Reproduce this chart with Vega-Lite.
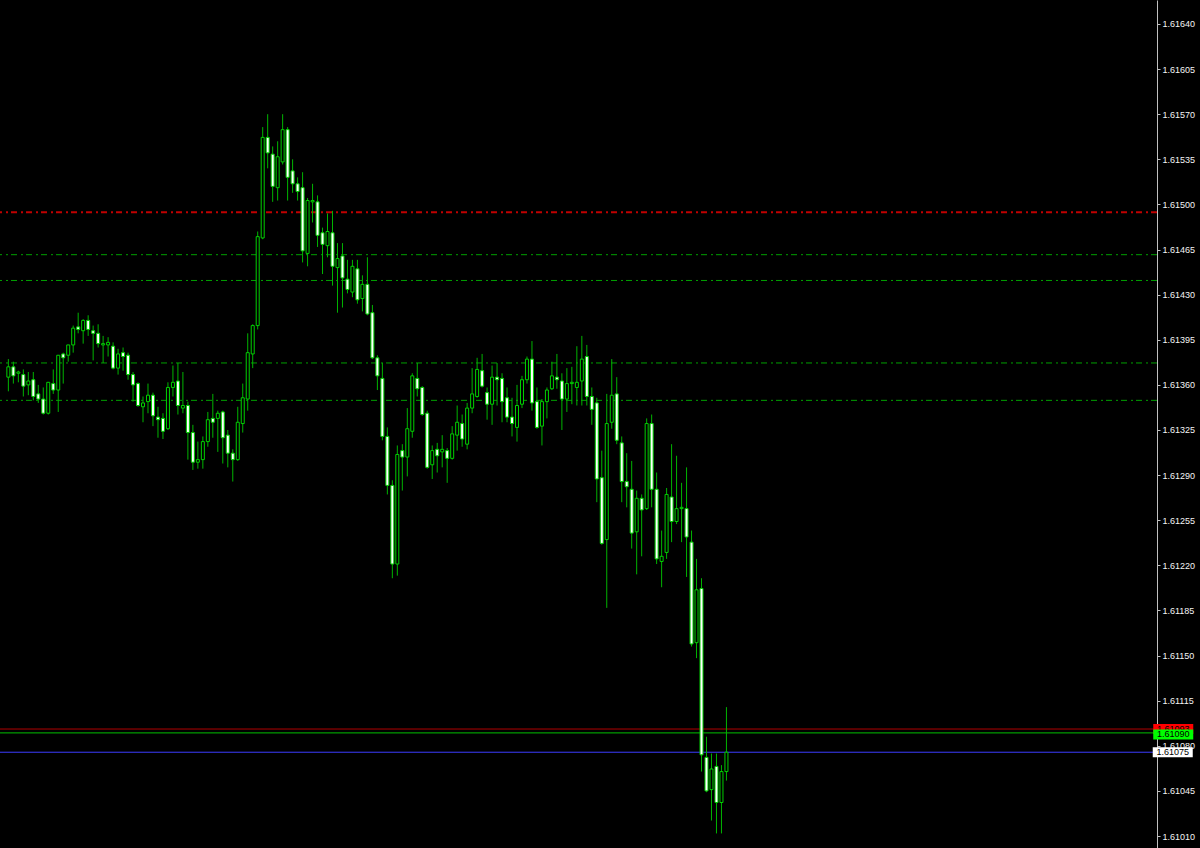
{
  "$schema": "https://vega.github.io/schema/vega-lite/v6.json",
  "width": 1157,
  "height": 848,
  "autosize": {"type": "none"},
  "padding": {"left": 0, "top": 0, "right": 43, "bottom": 0},
  "background": "#000000",
  "config": {"view": {"stroke": null}, "font": "Liberation Sans"},
  "datasets": {
    "bars": [
      {"t":0,"open":1.61366,"high":1.61380,"low":1.61355,"close":1.61374},
      {"t":1,"open":1.61374,"high":1.61378,"low":1.61361,"close":1.61367},
      {"t":2,"open":1.61369,"high":1.61371,"low":1.61362,"close":1.61370},
      {"t":3,"open":1.61368,"high":1.61372,"low":1.61351,"close":1.61359},
      {"t":4,"open":1.61360,"high":1.61370,"low":1.61352,"close":1.61363},
      {"t":5,"open":1.61364,"high":1.61370,"low":1.61348,"close":1.61351},
      {"t":6,"open":1.61353,"high":1.61360,"low":1.61346,"close":1.61349},
      {"t":7,"open":1.61349,"high":1.61358,"low":1.61337,"close":1.61338},
      {"t":8,"open":1.61338,"high":1.61362,"low":1.61337,"close":1.61362},
      {"t":9,"open":1.61361,"high":1.61372,"low":1.61353,"close":1.61356},
      {"t":10,"open":1.61356,"high":1.61383,"low":1.61339,"close":1.61383},
      {"t":11,"open":1.61384,"high":1.61385,"low":1.61361,"close":1.61381},
      {"t":12,"open":1.61383,"high":1.61391,"low":1.61378,"close":1.61391},
      {"t":13,"open":1.61391,"high":1.61406,"low":1.61385,"close":1.61404},
      {"t":14,"open":1.61405,"high":1.61416,"low":1.61400,"close":1.61403},
      {"t":15,"open":1.61402,"high":1.61411,"low":1.61392,"close":1.61410},
      {"t":16,"open":1.61410,"high":1.61414,"low":1.61398,"close":1.61403},
      {"t":17,"open":1.61402,"high":1.61406,"low":1.61379,"close":1.61400},
      {"t":18,"open":1.61400,"high":1.61407,"low":1.61389,"close":1.61392},
      {"t":19,"open":1.61391,"high":1.61398,"low":1.61377,"close":1.61392},
      {"t":20,"open":1.61391,"high":1.61397,"low":1.61382,"close":1.61393},
      {"t":21,"open":1.61390,"high":1.61393,"low":1.61372,"close":1.61373},
      {"t":22,"open":1.61373,"high":1.61388,"low":1.61368,"close":1.61384},
      {"t":23,"open":1.61385,"high":1.61389,"low":1.61371,"close":1.61382},
      {"t":24,"open":1.61383,"high":1.61385,"low":1.61364,"close":1.61368},
      {"t":25,"open":1.61368,"high":1.61370,"low":1.61347,"close":1.61360},
      {"t":26,"open":1.61361,"high":1.61362,"low":1.61343,"close":1.61344},
      {"t":27,"open":1.61343,"high":1.61351,"low":1.61331,"close":1.61346},
      {"t":28,"open":1.61347,"high":1.61361,"low":1.61338,"close":1.61352},
      {"t":29,"open":1.61352,"high":1.61354,"low":1.61328,"close":1.61336},
      {"t":30,"open":1.61335,"high":1.61343,"low":1.61319,"close":1.61333},
      {"t":31,"open":1.61334,"high":1.61338,"low":1.61318,"close":1.61324},
      {"t":32,"open":1.61326,"high":1.61362,"low":1.61325,"close":1.61358},
      {"t":33,"open":1.61358,"high":1.61375,"low":1.61351,"close":1.61362},
      {"t":34,"open":1.61363,"high":1.61377,"low":1.61337,"close":1.61344},
      {"t":35,"open":1.61342,"high":1.61370,"low":1.61338,"close":1.61344},
      {"t":36,"open":1.61344,"high":1.61347,"low":1.61302,"close":1.61323},
      {"t":37,"open":1.61323,"high":1.61329,"low":1.61294,"close":1.61300},
      {"t":38,"open":1.61300,"high":1.61316,"low":1.61295,"close":1.61302},
      {"t":39,"open":1.61302,"high":1.61320,"low":1.61295,"close":1.61316},
      {"t":40,"open":1.61316,"high":1.61339,"low":1.61312,"close":1.61333},
      {"t":41,"open":1.61334,"high":1.61353,"low":1.61319,"close":1.61331},
      {"t":42,"open":1.61334,"high":1.61340,"low":1.61308,"close":1.61338},
      {"t":43,"open":1.61339,"high":1.61340,"low":1.61299,"close":1.61319},
      {"t":44,"open":1.61321,"high":1.61325,"low":1.61296,"close":1.61307},
      {"t":45,"open":1.61307,"high":1.61310,"low":1.61285,"close":1.61302},
      {"t":46,"open":1.61302,"high":1.61343,"low":1.61301,"close":1.61331},
      {"t":47,"open":1.61330,"high":1.61361,"low":1.61323,"close":1.61350},
      {"t":48,"open":1.61349,"high":1.61400,"low":1.61340,"close":1.61385},
      {"t":49,"open":1.61384,"high":1.61407,"low":1.61373,"close":1.61406},
      {"t":50,"open":1.61406,"high":1.61479,"low":1.61403,"close":1.61475},
      {"t":51,"open":1.61474,"high":1.61560,"low":1.61473,"close":1.61552},
      {"t":52,"open":1.61552,"high":1.61570,"low":1.61528,"close":1.61540},
      {"t":53,"open":1.61539,"high":1.61545,"low":1.61502,"close":1.61514},
      {"t":54,"open":1.61513,"high":1.61549,"low":1.61503,"close":1.61537},
      {"t":55,"open":1.61533,"high":1.61570,"low":1.61531,"close":1.61558},
      {"t":56,"open":1.61558,"high":1.61560,"low":1.61503,"close":1.61521},
      {"t":57,"open":1.61526,"high":1.61535,"low":1.61509,"close":1.61516},
      {"t":58,"open":1.61516,"high":1.61521,"low":1.61503,"close":1.61510},
      {"t":59,"open":1.61513,"high":1.61525,"low":1.61455,"close":1.61464},
      {"t":60,"open":1.61462,"high":1.61505,"low":1.61452,"close":1.61503},
      {"t":61,"open":1.61502,"high":1.61516,"low":1.61486,"close":1.61503},
      {"t":62,"open":1.61502,"high":1.61507,"low":1.61467,"close":1.61476},
      {"t":63,"open":1.61478,"high":1.61482,"low":1.61446,"close":1.61469},
      {"t":64,"open":1.61468,"high":1.61493,"low":1.61459,"close":1.61479},
      {"t":65,"open":1.61478,"high":1.61495,"low":1.61437,"close":1.61452},
      {"t":66,"open":1.61451,"high":1.61470,"low":1.61416,"close":1.61458},
      {"t":67,"open":1.61460,"high":1.61470,"low":1.61420,"close":1.61443},
      {"t":68,"open":1.61442,"high":1.61457,"low":1.61431,"close":1.61434},
      {"t":69,"open":1.61432,"high":1.61457,"low":1.61428,"close":1.61452},
      {"t":70,"open":1.61450,"high":1.61457,"low":1.61423,"close":1.61426},
      {"t":71,"open":1.61427,"high":1.61445,"low":1.61417,"close":1.61438},
      {"t":72,"open":1.61438,"high":1.61459,"low":1.61414,"close":1.61415},
      {"t":73,"open":1.61416,"high":1.61422,"low":1.61380,"close":1.61381},
      {"t":74,"open":1.61381,"high":1.61383,"low":1.61356,"close":1.61367},
      {"t":75,"open":1.61365,"high":1.61377,"low":1.61317,"close":1.61320},
      {"t":76,"open":1.61320,"high":1.61327,"low":1.61275,"close":1.61282},
      {"t":77,"open":1.61282,"high":1.61286,"low":1.61210,"close":1.61221},
      {"t":78,"open":1.61221,"high":1.61313,"low":1.61212,"close":1.61306},
      {"t":79,"open":1.61309,"high":1.61314,"low":1.61278,"close":1.61304},
      {"t":80,"open":1.61304,"high":1.61342,"low":1.61289,"close":1.61326},
      {"t":81,"open":1.61324,"high":1.61369,"low":1.61319,"close":1.61367},
      {"t":82,"open":1.61365,"high":1.61377,"low":1.61351,"close":1.61357},
      {"t":83,"open":1.61358,"high":1.61359,"low":1.61336,"close":1.61337},
      {"t":84,"open":1.61338,"high":1.61340,"low":1.61295,"close":1.61296},
      {"t":85,"open":1.61298,"high":1.61313,"low":1.61287,"close":1.61309},
      {"t":86,"open":1.61310,"high":1.61315,"low":1.61292,"close":1.61305},
      {"t":87,"open":1.61308,"high":1.61321,"low":1.61296,"close":1.61310},
      {"t":88,"open":1.61309,"high":1.61311,"low":1.61284,"close":1.61303},
      {"t":89,"open":1.61303,"high":1.61328,"low":1.61302,"close":1.61322},
      {"t":90,"open":1.61321,"high":1.61344,"low":1.61309,"close":1.61331},
      {"t":91,"open":1.61330,"high":1.61337,"low":1.61312,"close":1.61318},
      {"t":92,"open":1.61314,"high":1.61346,"low":1.61310,"close":1.61342},
      {"t":93,"open":1.61342,"high":1.61373,"low":1.61338,"close":1.61353},
      {"t":94,"open":1.61351,"high":1.61381,"low":1.61350,"close":1.61372},
      {"t":95,"open":1.61371,"high":1.61384,"low":1.61358,"close":1.61359},
      {"t":96,"open":1.61354,"high":1.61358,"low":1.61333,"close":1.61345},
      {"t":97,"open":1.61345,"high":1.61375,"low":1.61329,"close":1.61366},
      {"t":98,"open":1.61366,"high":1.61377,"low":1.61344,"close":1.61364},
      {"t":99,"open":1.61365,"high":1.61369,"low":1.61331,"close":1.61347},
      {"t":100,"open":1.61350,"high":1.61358,"low":1.61331,"close":1.61335},
      {"t":101,"open":1.61335,"high":1.61350,"low":1.61320,"close":1.61330},
      {"t":102,"open":1.61327,"high":1.61360,"low":1.61316,"close":1.61344},
      {"t":103,"open":1.61345,"high":1.61367,"low":1.61342,"close":1.61364},
      {"t":104,"open":1.61364,"high":1.61382,"low":1.61361,"close":1.61380},
      {"t":105,"open":1.61380,"high":1.61394,"low":1.61340,"close":1.61346},
      {"t":106,"open":1.61347,"high":1.61358,"low":1.61326,"close":1.61327},
      {"t":107,"open":1.61328,"high":1.61349,"low":1.61313,"close":1.61347},
      {"t":108,"open":1.61347,"high":1.61358,"low":1.61334,"close":1.61356},
      {"t":109,"open":1.61357,"high":1.61378,"low":1.61356,"close":1.61367},
      {"t":110,"open":1.61366,"high":1.61384,"low":1.61357,"close":1.61364},
      {"t":111,"open":1.61363,"high":1.61369,"low":1.61325,"close":1.61349},
      {"t":112,"open":1.61349,"high":1.61373,"low":1.61339,"close":1.61361},
      {"t":113,"open":1.61361,"high":1.61374,"low":1.61345,"close":1.61362},
      {"t":114,"open":1.61358,"high":1.61390,"low":1.61344,"close":1.61362},
      {"t":115,"open":1.61363,"high":1.61398,"low":1.61344,"close":1.61380},
      {"t":116,"open":1.61382,"high":1.61391,"low":1.61344,"close":1.61351},
      {"t":117,"open":1.61351,"high":1.61358,"low":1.61329,"close":1.61341},
      {"t":118,"open":1.61346,"high":1.61350,"low":1.61269,"close":1.61287},
      {"t":119,"open":1.61288,"high":1.61309,"low":1.61236,"close":1.61237},
      {"t":120,"open":1.61240,"high":1.61353,"low":1.61187,"close":1.61330},
      {"t":121,"open":1.61331,"high":1.61380,"low":1.61326,"close":1.61352},
      {"t":122,"open":1.61353,"high":1.61366,"low":1.61314,"close":1.61317},
      {"t":123,"open":1.61315,"high":1.61320,"low":1.61269,"close":1.61285},
      {"t":124,"open":1.61285,"high":1.61307,"low":1.61265,"close":1.61281},
      {"t":125,"open":1.61279,"high":1.61301,"low":1.61233,"close":1.61245},
      {"t":126,"open":1.61246,"high":1.61278,"low":1.61213,"close":1.61272},
      {"t":127,"open":1.61272,"high":1.61275,"low":1.61227,"close":1.61263},
      {"t":128,"open":1.61264,"high":1.61334,"low":1.61263,"close":1.61330},
      {"t":129,"open":1.61330,"high":1.61337,"low":1.61265,"close":1.61279},
      {"t":130,"open":1.61279,"high":1.61292,"low":1.61221,"close":1.61225},
      {"t":131,"open":1.61223,"high":1.61247,"low":1.61203,"close":1.61227},
      {"t":132,"open":1.61230,"high":1.61280,"low":1.61225,"close":1.61275},
      {"t":133,"open":1.61273,"high":1.61314,"low":1.61238,"close":1.61254},
      {"t":134,"open":1.61254,"high":1.61305,"low":1.61252,"close":1.61264},
      {"t":135,"open":1.61264,"high":1.61284,"low":1.61238,"close":1.61265},
      {"t":136,"open":1.61264,"high":1.61296,"low":1.61211,"close":1.61242},
      {"t":137,"open":1.61238,"high":1.61247,"low":1.61157,"close":1.61159},
      {"t":138,"open":1.61160,"high":1.61225,"low":1.61148,"close":1.61201},
      {"t":139,"open":1.61202,"high":1.61210,"low":1.61060,"close":1.61073},
      {"t":140,"open":1.61071,"high":1.61087,"low":1.61044,"close":1.61045},
      {"t":141,"open":1.61046,"high":1.61074,"low":1.61022,"close":1.61062},
      {"t":142,"open":1.61064,"high":1.61074,"low":1.61012,"close":1.61036},
      {"t":143,"open":1.61036,"high":1.61065,"low":1.61012,"close":1.61060},
      {"t":144,"open":1.61060,"high":1.61110,"low":1.61053,"close":1.61075}
    ],
    "levels": [
      {"price": 1.61494, "kind": "resistance"},
      {"price": 1.61461, "kind": "support"},
      {"price": 1.61441, "kind": "support"},
      {"price": 1.61377, "kind": "support"},
      {"price": 1.61348, "kind": "support"}
    ],
    "quotes": [
      {"price": 1.61093, "label": "1.61093", "kind": "ask"},
      {"price": 1.61090, "label": "1.61090", "kind": "mid"},
      {"price": 1.61075, "label": "1.61075", "kind": "bid"}
    ]
  },
  "layer": [
    {
      "data": {"name": "levels"},
      "transform": [{"filter": "datum.kind === 'support'"}],
      "mark": {"type": "rule", "color": "#00a000", "strokeWidth": 1, "strokeDash": [6, 3, 2, 4]},
      "encoding": {
        "y": {
          "field": "price", "type": "quantitative", "title": null,
          "scale": {"domain": [1.610007, 1.616586], "nice": false, "zero": false},
          "axis": {
            "orient": "right",
            "title": null,
            "values": [1.6101, 1.61045, 1.6108, 1.61115, 1.6115, 1.61185, 1.6122, 1.61255, 1.6129, 1.61325, 1.6136, 1.61395, 1.6143, 1.61465, 1.615, 1.61535, 1.6157, 1.61605, 1.6164],
            "format": ".5f",
            "grid": false,
            "domainColor": "#c0c0c0",
            "domainWidth": 1,
            "tickColor": "#c0c0c0",
            "tickSize": 3,
            "tickWidth": 1,
            "labelColor": "#f4f4f4",
            "labelFont": "Liberation Sans",
            "labelFontSize": 9,
            "labelPadding": 2,
            "labelOverlap": false,
            "labelFlush": false,
            "labelBaseline": "middle"
          }
        }
      }
    },
    {
      "data": {"name": "levels"},
      "transform": [{"filter": "datum.kind === 'resistance'"}],
      "mark": {"type": "rule", "color": "#c00000", "strokeWidth": 2, "strokeDash": [6, 3, 2, 4]},
      "encoding": {
        "y": {"field": "price", "type": "quantitative", "title": null}
      }
    },
    {
      "data": {"name": "quotes"},
      "mark": {"type": "rule", "strokeWidth": 1},
      "encoding": {
        "y": {"field": "price", "type": "quantitative", "title": null},
        "color": {"field": "kind", "type": "nominal", "scale": {"domain": ["ask", "mid", "bid"], "range": ["#b00000", "#00c000", "#3c3cff"]}, "legend": null}
      }
    },
    {
      "data": {"name": "bars"},
      "mark": {"type": "rule", "color": "#00b400", "strokeWidth": 1},
      "encoding": {
        "x": {"field": "t", "type": "quantitative", "scale": {"domain": [-0.676, 229.34], "nice": false, "zero": false}, "axis": null},
        "y": {"field": "low", "type": "quantitative", "title": null},
        "y2": {"field": "high"}
      }
    },
    {
      "data": {"name": "bars"},
      "mark": {"type": "bar", "width": 3, "stroke": "#00d000", "strokeWidth": 1},
      "encoding": {
        "x": {"field": "t", "type": "quantitative"},
        "y": {"field": "open", "type": "quantitative", "title": null},
        "y2": {"field": "close"},
        "fill": {"condition": {"test": "datum.close > datum.open", "value": "#000000"}, "value": "#ffffff"}
      }
    },
    {
      "data": {"name": "quotes"},
      "transform": [{"filter": "datum.kind === 'ask'"}],
      "mark": {"type": "point", "shape": "M-1,-0.25H1V0.25H-1Z", "size": 1600, "filled": true, "opacity": 1, "color": "#ff0000", "strokeWidth": 0},
      "encoding": {
        "x": {"datum": 233.6, "type": "quantitative"},
        "y": {"field": "price", "type": "quantitative", "title": null}
      }
    },
    {
      "data": {"name": "quotes"},
      "transform": [{"filter": "datum.kind === 'ask'"}],
      "mark": {"type": "text", "color": "#000000", "fontSize": 9, "font": "Liberation Sans", "align": "center", "baseline": "middle"},
      "encoding": {
        "x": {"datum": 233.6, "type": "quantitative"},
        "y": {"field": "price", "type": "quantitative", "title": null},
        "text": {"field": "label"}
      }
    },
    {
      "data": {"name": "quotes"},
      "transform": [{"filter": "datum.kind === 'mid'"}],
      "mark": {"type": "point", "shape": "M-1,-0.25H1V0.25H-1Z", "size": 1600, "filled": true, "opacity": 1, "color": "#00ff00", "strokeWidth": 0, "yOffset": 1.5},
      "encoding": {
        "x": {"datum": 233.6, "type": "quantitative"},
        "y": {"field": "price", "type": "quantitative", "title": null}
      }
    },
    {
      "data": {"name": "quotes"},
      "transform": [{"filter": "datum.kind === 'mid'"}],
      "mark": {"type": "text", "color": "#000000", "fontSize": 9, "font": "Liberation Sans", "align": "center", "baseline": "middle", "yOffset": 1.5},
      "encoding": {
        "x": {"datum": 233.6, "type": "quantitative"},
        "y": {"field": "price", "type": "quantitative", "title": null},
        "text": {"field": "label"}
      }
    },
    {
      "data": {"name": "quotes"},
      "transform": [{"filter": "datum.kind === 'bid'"}],
      "mark": {"type": "point", "shape": "M-1,-0.25H1V0.25H-1Z", "size": 1600, "filled": true, "opacity": 1, "color": "#ffffff", "strokeWidth": 0},
      "encoding": {
        "x": {"datum": 233.5, "type": "quantitative"},
        "y": {"field": "price", "type": "quantitative", "title": null}
      }
    },
    {
      "data": {"name": "quotes"},
      "transform": [{"filter": "datum.kind === 'bid'"}],
      "mark": {"type": "text", "color": "#000000", "fontSize": 9, "font": "Liberation Sans", "align": "center", "baseline": "middle"},
      "encoding": {
        "x": {"datum": 233.5, "type": "quantitative"},
        "y": {"field": "price", "type": "quantitative", "title": null},
        "text": {"field": "label"}
      }
    }
  ]
}
